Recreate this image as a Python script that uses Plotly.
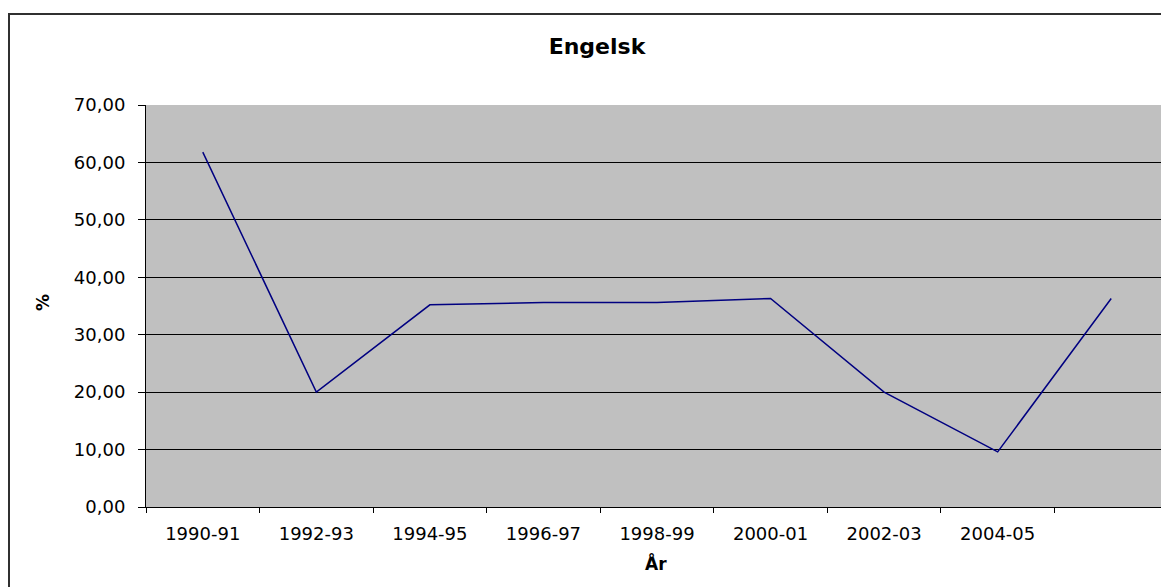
import plotly.graph_objects as go

categories = ["1990-91", "1992-93", "1994-95", "1996-97", "1998-99",
              "2000-01", "2002-03", "2004-05", " "]
values = [61.8, 20.0, 35.2, 35.6, 35.6, 36.3, 20.0, 9.6, 36.3]

title_text = "Engelsk"
x_title = "År"
y_title = "%"

FONT = "DejaVu Sans, Liberation Sans, Arial, sans-serif"

W, H = 1161, 579
L, R, T, B = 138, 1, 97, 80
PW = W - L - R
PH = H - T - B

fig = go.Figure()
fig.add_trace(go.Scatter(
    x=categories, y=values, mode="lines",
    line=dict(color="#000080", width=1.5),
    hoverinfo="x+y", showlegend=False,
))

fig.update_layout(
    width=W, height=H,
    margin=dict(l=L, r=R, t=T, b=B),
    paper_bgcolor="white",
    plot_bgcolor="#C0C0C0",
    separators=",.",
    font=dict(family=FONT, size=18, color="black"),
    title=dict(text="<b>%s</b>" % title_text, x=589 / W, xref="container",
               xanchor="center", y=1 - 38 / H, yref="container",
               yanchor="middle", font=dict(size=22, family=FONT, color="black")),
    xaxis=dict(
        type="category", categoryorder="array", categoryarray=categories,
        range=[-0.5, 8.5],
        showgrid=False, zeroline=False,
        showline=True, linecolor="black", linewidth=1,
        ticks="outside", ticklen=5, tickcolor="black", tickson="boundaries",
        ticklabelstandoff=10,
        tickfont=dict(size=18),
    ),
    yaxis=dict(
        range=[0, 70], dtick=10, tick0=0, tickformat=".2f",
        showgrid=True, gridcolor="black", gridwidth=1,
        zeroline=False,
        showline=True, linecolor="black", linewidth=1,
        ticks="outside", ticklen=7, tickcolor="black",
        ticklabelstandoff=9,
        tickfont=dict(size=18),
    ),
    annotations=[
        dict(text="<b>%s</b>" % y_title, xref="paper", yref="paper",
             x=(35 - L) / PW, y=(H - B - 295) / PH, showarrow=False,
             textangle=-90, xanchor="center", yanchor="middle",
             font=dict(size=17, family=FONT, color="black")),
        dict(text="<b>%s</b>" % x_title, xref="paper", yref="paper",
             x=(648 - L) / PW, y=(H - B - 555) / PH, showarrow=False,
             xanchor="center", yanchor="middle",
             font=dict(size=17, family=FONT, color="black")),
    ],
    shapes=[
        dict(type="rect", xref="paper", yref="paper",
             x0=(1 - L) / PW, x1=1.05, y0=-0.5, y1=(H - B - 6) / PH,
             line=dict(color="#303030", width=2), fillcolor="rgba(0,0,0,0)",
             layer="below"),
        dict(type="line", xref="paper", yref="paper",
             x0=1, x1=1, y0=0, y1=1, line=dict(color="#808080", width=1)),
    ],
)

fig.write_html("out.html")
